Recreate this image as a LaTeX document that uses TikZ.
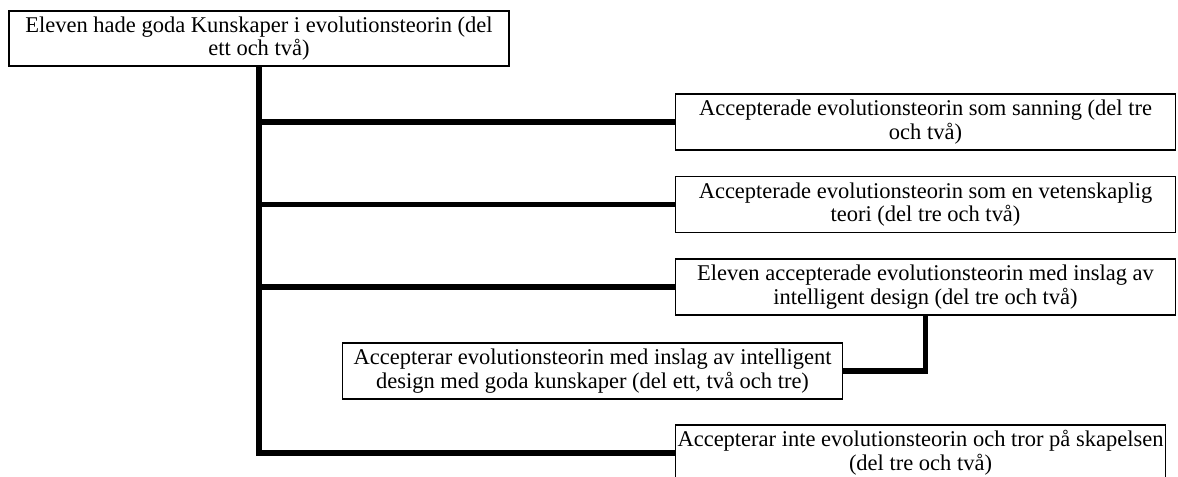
\documentclass[tikz,border=0pt]{standalone}
\usepackage{fontspec}
\setmainfont{Liberation Serif}
\usetikzlibrary{positioning}
\tikzset{
  box/.style   ={draw=black, line width=0.8pt, fill=white, align=center,
                 font=\fontsize{12.8}{13.4}\selectfont, inner sep=1pt,
                 minimum width=10cm, minimum height=1.12cm},
  topbox/.style={box, minimum height=1.1cm},
  trunk/.style ={draw=black, line width=3.4pt, line join=miter},
  twig/.style  ={draw=black, line width=3pt},
}

\begin{document}
\begin{tikzpicture}

  % ---- page frame ----
  \useasboundingbox (0,0) rectangle (23.56,-9.54);
  \clip (0,0) rectangle (23.56,-9.54);

  % ---- root ----
  \node[topbox] (root) at (5.18,-0.77)
      {Eleven hade goda Kunskaper i evolutionsteorin (del\\ett och två)};

  % ---- outcomes ----
  \node[box] (sann)  at (18.51,-2.44)
      {Accepterade evolutionsteorin som sanning (del tre\\och två)};
  \node[box] (vet)   at (18.51,-4.09)
      {Accepterade evolutionsteorin som en vetenskaplig\\teori (del tre och två)};
  \node[box] (id)    at (18.51,-5.74)
      {Eleven accepterade evolutionsteorin med inslag av\\intelligent design (del tre och två)};
  \node[box] (idkun) at (11.85,-7.42)
      {Accepterar evolutionsteorin med inslag av intelligent\\design med goda kunskaper (del ett, två och tre)};
  \node[box, minimum width=9.8cm] (skap) at (18.41,-9.06)
      {Accepterar inte evolutionsteorin och tror på skapelsen\\(del tre och två)};

  % ---- tree lines ----
  \draw[trunk] (root.south) |- (skap.west);
  \draw[twig] (root.south |- sann.west) -- (sann.west);
  \draw[twig] (root.south |- vet.west) -- (vet.west);
  \draw[twig] (root.south |- id.west) -- (id.west);
  \draw[twig] (id.south) |- (idkun.east);

\end{tikzpicture}
\end{document}
